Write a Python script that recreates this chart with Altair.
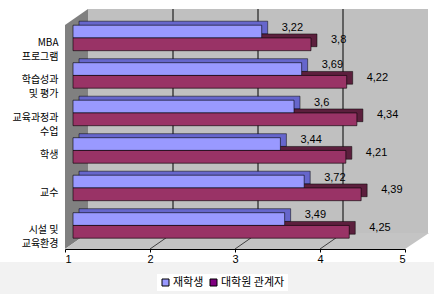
import altair as alt
import pandas as pd

categories = ["MBA\n프로그램", "학습성과\n및 평가", "교육과정과\n수업", "학생", "교수", "시설 및\n교육환경"]
series_names = ["재학생", "대학원 관계자"]
students = [3.22, 3.69, 3.6, 3.44, 3.72, 3.49]
staff = [3.8, 4.22, 4.34, 4.21, 4.39, 4.25]
x_ticks = [1, 2, 3, 4, 5]
grid_values = [2, 3, 4]

rows = []
for c, a, b in zip(categories, students, staff):
    rows.append({"category": c, "series": series_names[0], "value": a})
    rows.append({"category": c, "series": series_names[1], "value": b})
df = pd.DataFrame(rows)
grid_df = pd.DataFrame({"g": grid_values})
legend_df = pd.DataFrame({"series": series_names})
one = pd.DataFrame({"k": [0]})

FONT_KR = "Noto Sans CJK KR"
FONT_NUM = "Liberation Sans"

xscale = alt.Scale(domain=[1, 5], range=[0, 340], nice=False, zero=False)
yscale = alt.Scale(paddingInner=0.32, paddingOuter=0.36, align=0.6, range=[0, 240])
yscale_depth = alt.Scale(paddingInner=0.32, paddingOuter=0.36, align=0.6, range=[-4, 236])

# page background split (white chart area, grey strip below)
bg = alt.Chart(one).mark_rect(color="white").encode(
    x=alt.value(-65), x2=alt.value(369), y=alt.value(-9), y2=alt.value(253)
)

back_wall = alt.Chart(one).mark_rect(color="#c0c0c0", xOffset=23, x2Offset=23).encode(
    x=alt.datum(1, scale=xscale), x2=alt.datum(5), y=alt.value(0), y2=alt.value(224)
)

back_grid = alt.Chart(grid_df).mark_rule(color="black", strokeWidth=1, xOffset=23).encode(
    x=alt.X("g:Q", scale=xscale), y=alt.value(0), y2=alt.value(224)
)

left_wall = alt.Chart(one).mark_point(
    shape="M -0.0958 -0.8667 L 0.0958 -1 L 0.0958 0.8667 L -0.0958 1 Z",
    size=57600, filled=True, fill="#808080", strokeWidth=0, opacity=1, xOffset=11.5,
).encode(x=alt.datum(1, scale=xscale), y=alt.value(120))

floor = alt.Chart(one).mark_point(
    shape="M -1 0.044 L 0.8681 0.044 L 1 -0.044 L -0.8736 -0.044 Z",
    size=132496, filled=True, fill="#c4c4c4", strokeWidth=0, opacity=1, xOffset=12,
).encode(x=alt.datum(3, scale=xscale), y=alt.value(232))

floor_grid = alt.Chart(grid_df).mark_rule(color="#404040", strokeWidth=1, x2Offset=23).encode(
    x=alt.X("g:Q", scale=xscale), x2="g:Q", y=alt.value(240), y2=alt.value(224)
)

shadow = alt.Chart(df).mark_bar(xOffset=14, x2Offset=14, stroke="black", strokeWidth=0.5).encode(
    x=alt.X("value:Q", scale=xscale),
    x2=alt.datum(1),
    y=alt.Y("category:N", sort=categories, scale=yscale_depth, axis=None),
    yOffset=alt.YOffset("series:N", sort=series_names),
    color=alt.Color("series:N", scale=alt.Scale(domain=series_names, range=["#6666CC", "#5C1F3D"]), legend=None),
)

bars = alt.Chart(df).mark_bar(xOffset=8, x2Offset=8, stroke="black", strokeWidth=0.6).encode(
    x=alt.X("value:Q", scale=xscale,
            axis=alt.Axis(title=None, values=x_ticks, format="d", domain=True, domainColor="black",
                          tickSize=3, tickColor="black", labelFont=FONT_NUM, labelFontSize=11,
                          labelColor="black", labelPadding=1, grid=False, zindex=1)),
    x2=alt.datum(1),
    y=alt.Y("category:N", sort=categories, scale=yscale,
            axis=alt.Axis(title=None, domain=False, ticks=False, labelExpr="split(datum.label, '\\n')",
                          labelFont=FONT_KR, labelFontSize=10, labelColor="black", labelPadding=7,
                          labelOffset=5, labelLineHeight=14, labelAlign="right", zindex=1)),
    yOffset=alt.YOffset("series:N", sort=series_names),
    color=alt.Color("series:N", scale=alt.Scale(domain=series_names, range=["#9999FF", "#993366"]), legend=None),
)

labels = alt.Chart(df).transform_calculate(
    label="replace(toString(datum.value), '.', ',')"
).mark_text(align="left", baseline="middle", dx=28, dy=-4, fontSize=11, font=FONT_NUM, color="black").encode(
    x=alt.X("value:Q", scale=xscale),
    y=alt.Y("category:N", sort=categories, scale=yscale),
    yOffset=alt.YOffset("series:N", sort=series_names),
    text="label:N",
)

legend_layer = alt.Chart(legend_df).mark_square(opacity=0).encode(
    x=alt.datum(1), y=alt.value(0),
    color=alt.Color("series:N", scale=alt.Scale(domain=series_names, range=["#9999FF", "#800080"]),
                    legend=alt.Legend(orient="none", legendX=92, legendY=265, direction="horizontal",
                                      title=None, symbolType="square", symbolSize=49,
                                      symbolStrokeColor="black", symbolStrokeWidth=1, symbolOpacity=1,
                                      labelFont=FONT_KR, labelFontSize=11, labelColor="black",
                                      fillColor="white", padding=3, columnPadding=4, labelOffset=2)),
)

main = alt.layer(bars, labels)

chart = alt.layer(
    bg, back_wall, back_grid, left_wall, floor, floor_grid, shadow, main, legend_layer
).resolve_scale(color="independent", y="independent").properties(
    width=364, height=240, autosize="none",
    padding={"left": 65, "top": 9, "right": 5, "bottom": 45},
    background="#f2f2f2",
).configure_view(stroke=None)

chart.save("out.html", embed_options={"renderer": "svg", "actions": False})
